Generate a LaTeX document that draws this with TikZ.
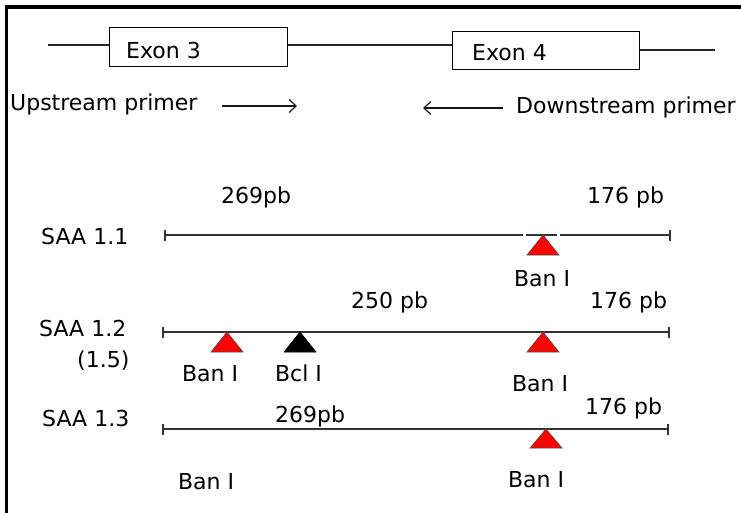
\documentclass[tikz,border=0pt]{standalone}
\usepackage{fontspec}
\setmainfont{DejaVu Sans}
\usetikzlibrary{arrows.meta}
\tikzset{
  lbl/.style={inner sep=0pt, anchor=base west, font=\fontsize{22}{26}\selectfont},
  lblc/.style={inner sep=0pt, anchor=base, font=\fontsize{22}{26}\selectfont},
  exon/.style={draw=black, line width=1pt, inner sep=0pt},
  gene/.style={draw=black!85, line width=1.2pt},
  dna/.style={draw=black!80, line width=1.4pt},
  tick/.style={draw=black!80, line width=1.6pt},
  primer/.style={draw=black!90, line width=1.2pt, -{Straight Barb[length=7pt,width=13pt]}},
  redsite/.style={fill=red, draw=black!70, line width=0.6pt},
  blacksite/.style={fill=black, draw=black, line width=0.6pt},
  frame/.style={draw=black, line width=3.7pt}
}
\begin{document}
\begin{tikzpicture}[x=1pt,y=-1pt]
\useasboundingbox (0,0) rectangle (741,513);
% frame (top and left only)
\coordinate (fbl) at (6.5,515);
\coordinate (ftl) at (6.5,7);
\coordinate (ftr) at (743,7);
\draw[frame] (fbl) -- (ftl) -- (ftr);

% gene with exons
\node[exon, minimum width=178pt, minimum height=39pt] (ex3) at (198,47.5) {};
\node[exon, minimum width=187pt, minimum height=38pt] (ex4) at (545.5,51) {};
\node[lbl] (ex3t) at (126,58.5) {Exon 3};
\node[lbl] (ex4t) at (472,61) {Exon 4};
\coordinate (g0) at (48,45);
\coordinate (g1) at (715,50);
\draw[gene] (g0) -- (g0 -| ex3.west);
\draw[gene] (ex3.east |- g0) -- (ex4.west |- g0);
\draw[gene] (ex4.east |- g1) -- (g1);

% primers
\node[lbl] (up) at (10,111) {Upstream primer};
\node[lbl] (down) at (516,114) {Downstream primer};
\coordinate (ua) at (222,106);
\coordinate (ub) at (297,106);
\coordinate (da) at (503,108);
\coordinate (db) at (423,108);
\draw[primer] (ua) -- (ub);
\draw[primer] (da) -- (db);

% ---- SAA 1.1 ----
\node[lbl] (s11) at (41,244) {SAA 1.1};
\node[lbl] (a269) at (221,204) {269pb};
\node[lbl] (a176) at (587,204) {176 pb};
\coordinate (l1a) at (165,235);
\coordinate (l1g1) at (523,235);
\coordinate (l1g2) at (526,235);
\coordinate (l1g3) at (557,235);
\coordinate (l1g4) at (560,235);
\coordinate (l1b) at (670,235);
\draw[dna] (l1a) -- (l1g1);
\draw[dna] (l1g2) -- (l1g3);
\draw[dna] (l1g4) -- (l1b);
\draw[tick] ([yshift=-5.5pt]l1a) -- ([yshift=5.5pt]l1a);
\draw[tick] ([yshift=-5.5pt]l1b) -- ([yshift=5.5pt]l1b);
\coordinate (t11) at (543,235);
\draw[redsite] (t11) -- ++(16,20) -- ++(-32,0) -- cycle;
\node[lblc] (b11) at (542,286) {Ban I};

% ---- SAA 1.2 ----
\node[lbl] (s12) at (39,336) {SAA 1.2};
\node[lbl] (s15) at (77,367) {(1.5)};
\node[lbl] (b250) at (351,308) {250 pb};
\node[lbl] (b176) at (590,308) {176 pb};
\coordinate (l2a) at (163,332);
\coordinate (l2b) at (669,332);
\draw[dna] (l2a) -- (l2b);
\draw[tick] ([yshift=-5.5pt]l2a) -- ([yshift=5.5pt]l2a);
\draw[tick] ([yshift=-5.5pt]l2b) -- ([yshift=5.5pt]l2b);
\coordinate (t21) at (227,332);
\coordinate (t22) at (300,332);
\coordinate (t23) at (543,332);
\draw[redsite] (t21) -- ++(16,20) -- ++(-32,0) -- cycle;
\draw[blacksite] (t22) -- ++(16,20) -- ++(-32,0) -- cycle;
\draw[redsite] (t23) -- ++(16,20) -- ++(-32,0) -- cycle;
\node[lblc] (b21) at (210,381) {Ban I};
\node[lblc] (b22) at (298.5,381) {Bcl I};
\node[lblc] (b23) at (540,391) {Ban I};

% ---- SAA 1.3 ----
\node[lbl] (s13) at (42,426) {SAA 1.3};
\node[lbl] (c269) at (275,422) {269pb};
\node[lbl] (c176) at (585,414) {176 pb};
\coordinate (l3a) at (163,429);
\coordinate (l3b) at (668,429);
\draw[dna] (l3a) -- (l3b);
\draw[tick] ([yshift=-5.5pt]l3a) -- ([yshift=5.5pt]l3a);
\draw[tick] ([yshift=-5.5pt]l3b) -- ([yshift=5.5pt]l3b);
\coordinate (t31) at (546,429);
\draw[redsite] (t31) -- ++(16,19) -- ++(-32,0) -- cycle;
\node[lblc] (b31) at (206,489) {Ban I};
\node[lblc] (b32) at (536,487) {Ban I};
\end{tikzpicture}
\end{document}
